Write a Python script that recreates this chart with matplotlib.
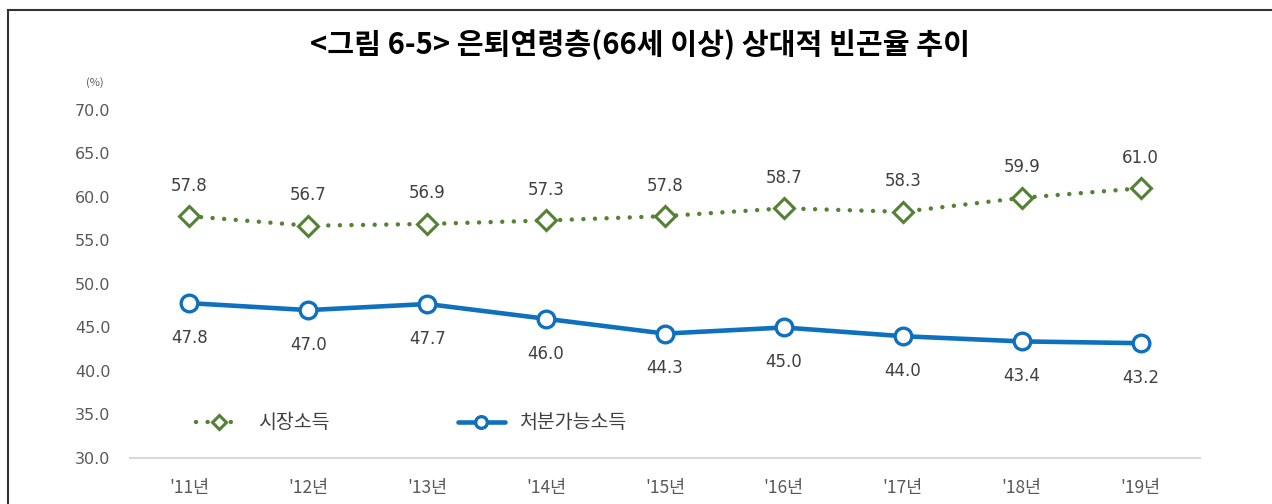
import matplotlib
matplotlib.use("Agg")
import matplotlib.pyplot as plt
from matplotlib.lines import Line2D

plt.rcParams['font.family'] = ['Noto Sans CJK KR', 'DejaVu Sans']

years = ["'11년", "'12년", "'13년", "'14년", "'15년", "'16년", "'17년", "'18년", "'19년"]
market_income = [57.8, 56.7, 56.9, 57.3, 57.8, 58.7, 58.3, 59.9, 61.0]
disposable_income = [47.8, 47.0, 47.7, 46.0, 44.3, 45.0, 44.0, 43.4, 43.2]
series_names = ["시장소득", "처분가능소득"]
yticks = [30, 35, 40, 45, 50, 55, 60, 65, 70]
title = "<그림 6-5> 은퇴연령층(66세 이상) 상대적 빈곤율 추이"

GREEN = "#548235"
BLUE = "#0F70BE"
TXT = "#595959"
LBL = "#404040"
NUMFONT = ['DejaVu Sans']

fig = plt.figure(figsize=(12.72, 5.04), dpi=100)
W, H = 1272, 504
ax = fig.add_axes([130 / W, 1 - 458 / H, (1200 - 130) / W, (458 - 110) / H])

x = list(range(len(years)))
ax.plot(x, market_income, color=GREEN, lw=3.2, linestyle=(0, (0.01, 2.6)),
        dash_capstyle='round', marker='D', markersize=10.5, markerfacecolor='white',
        markeredgecolor=GREEN, markeredgewidth=2.2, label=series_names[0], zorder=3)
ax.plot(x, disposable_income, color=BLUE, lw=3.3, solid_capstyle='round',
        marker='o', markersize=12, markerfacecolor='white',
        markeredgecolor=BLUE, markeredgewidth=2.4, label=series_names[1], zorder=3)

for xi, v in zip(x, market_income):
    ax.annotate(f"{v:.1f}", (xi, v), xytext=(0, 22), textcoords='offset points',
                ha='center', va='center', fontsize=12, color=LBL, family=NUMFONT)
for xi, v in zip(x, disposable_income):
    ax.annotate(f"{v:.1f}", (xi, v), xytext=(0, -25), textcoords='offset points',
                ha='center', va='center', fontsize=12, color=LBL, family=NUMFONT)

ax.set_xlim(-0.5, len(years) - 0.5)
ax.set_ylim(30, 70)
ax.set_yticks(yticks)
ax.set_yticklabels([f"{t:.1f}" for t in yticks], fontsize=11.5, color=TXT, family=NUMFONT)
ax.set_xticks(x)
ax.set_xticklabels(years, fontsize=12.5, color=TXT)
ax.tick_params(axis='both', length=0)
ax.tick_params(axis='y', pad=14)
ax.tick_params(axis='x', pad=15)
for s in ['top', 'right', 'left']:
    ax.spines[s].set_visible(False)
ax.spines['bottom'].set_color('#D9D9D9')
ax.spines['bottom'].set_linewidth(1.5)

leg = ax.legend(ncol=2, loc='center left', bbox_to_anchor=(58 / 1070, (458 - 423) / 348),
                frameon=False, prop={'size': 14}, handlelength=2.4, columnspacing=6.6,
                handletextpad=0.8, borderaxespad=0, markerscale=0.7)
for t in leg.get_texts():
    t.set_color(LBL)

fig.text(640 / W, 1 - 45 / H, title, ha='center', va='center', fontsize=21,
         color='black', fontweight='bold')
fig.text(95 / W, 1 - 83 / H, "(%)", ha='center', va='center', fontsize=8, color=TXT)

fig.add_artist(Line2D([8 / W, 1], [1 - 10 / H, 1 - 10 / H], color='#333333', lw=1.5,
                      transform=fig.transFigure))
fig.add_artist(Line2D([8 / W, 8 / W], [0, 1 - 10 / H], color='#333333', lw=1.5,
                      transform=fig.transFigure))

fig.savefig("out.png", dpi=100)
